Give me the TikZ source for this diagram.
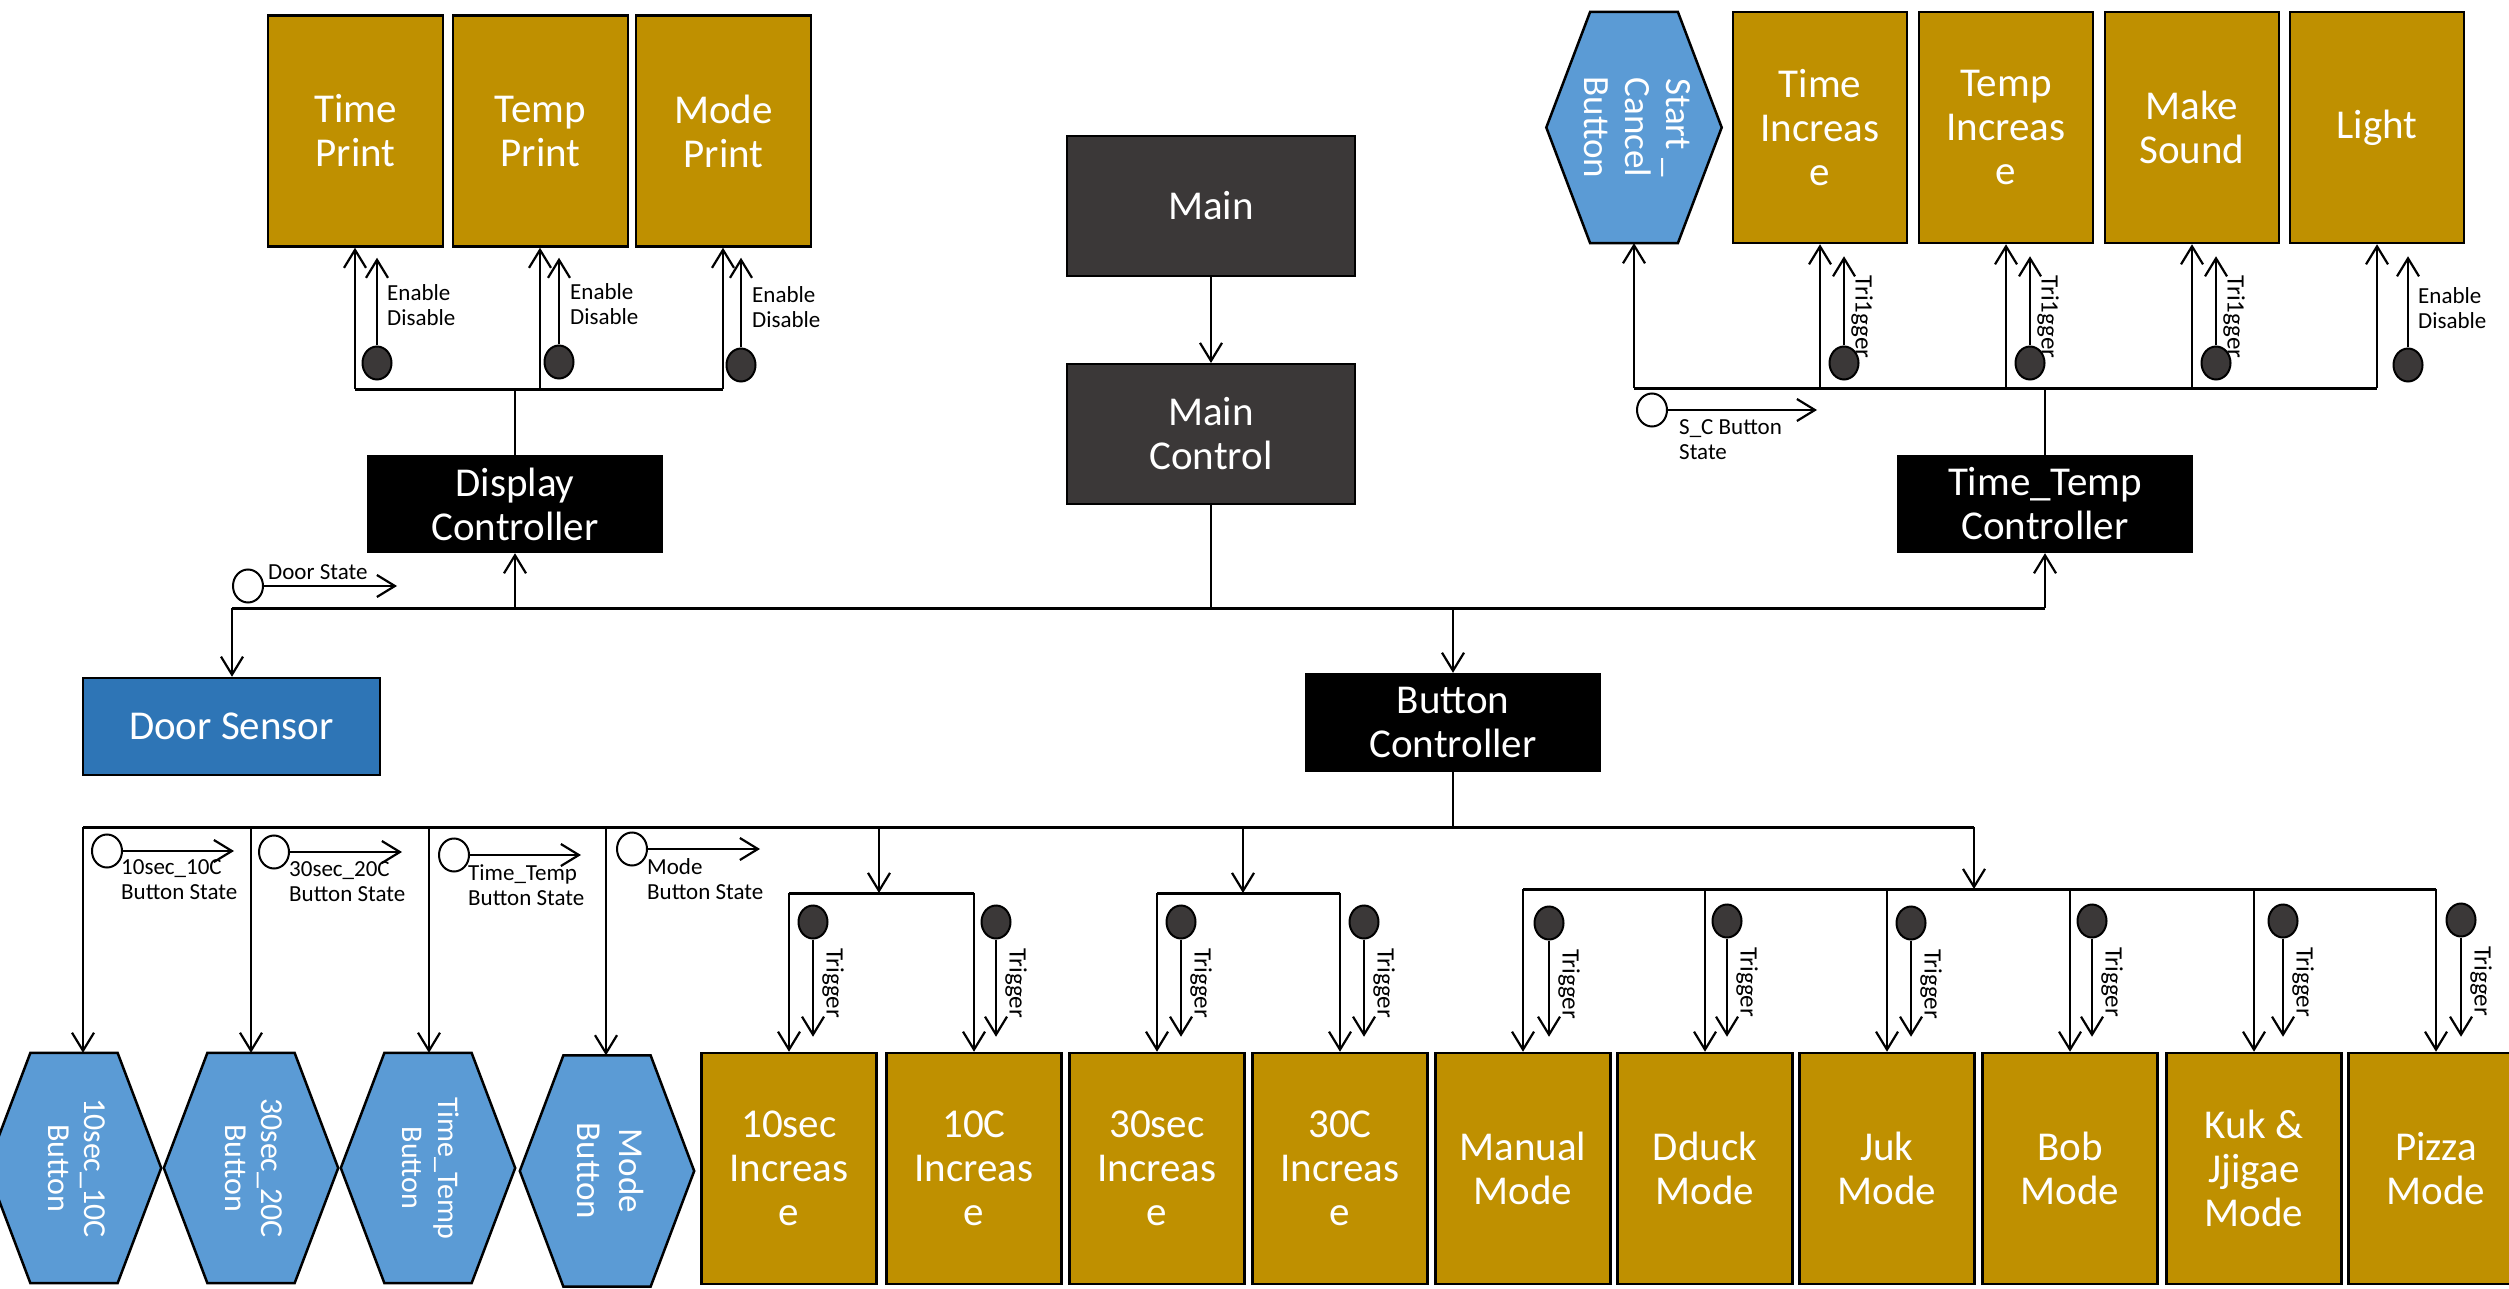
\documentclass[tikz,border=0pt]{standalone}
\usepackage{fontspec}
\setmainfont{Carlito}
\usepackage{graphicx}
\usetikzlibrary{arrows.meta,calc,shapes.geometric}
\pgfdeclarelayer{bg}
\pgfsetlayers{bg,main}
\definecolor{gold}{HTML}{BF9000}
\definecolor{hexblue}{HTML}{5B9BD5}
\definecolor{doorblue}{HTML}{2E75B6}
\definecolor{darkbox}{HTML}{3B3838}
\newcommand\drawhexof[1]{%
  \begin{pgfonlayer}{bg}
  \filldraw[hexline] (#1.west) -- ($(#1.north west)!0.25!(#1.north east)$) -- ($(#1.north west)!0.75!(#1.north east)$) -- (#1.east) -- ($(#1.south west)!0.75!(#1.south east)$) -- ($(#1.south west)!0.25!(#1.south east)$) -- cycle;
  \end{pgfonlayer}}
\newcommand\rottext[1]{\rotatebox{-90}{\begin{tabular}{@{}c@{}}#1\end{tabular}}}
\begin{document}
\begin{tikzpicture}[x=1pt,y=-1pt,
  bigfont/.style={font=\fontsize{41}{44}\selectfont},
  goldbox/.style={bigfont, draw=black, line width=2.5pt, fill=gold, text=white, minimum width=175pt, minimum height=231pt, inner sep=0pt, align=center},
  mainbox/.style={bigfont, draw=black, line width=2pt, fill=darkbox, text=white, minimum width=288pt, minimum height=140pt, inner sep=0pt, align=center},
  ctrl/.style={bigfont, fill=black, text=white, minimum width=296pt, minimum height=98pt, inner sep=0pt, align=center},
  doorbox/.style={bigfont, draw=black, line width=2.5pt, fill=doorblue, text=white, minimum width=297pt, minimum height=97pt, inner sep=0pt},
  hexnode/.style={minimum width=174pt, minimum height=230pt, inner sep=0pt, text=white},
  hexline/.style={draw=black, line width=2.5pt, fill=hexblue},
  conn/.style={line width=2.2pt},
  arr/.style={conn, -{Straight Barb[length=18pt,width=22pt]}},
  bus/.style={line width=3pt},
  dot/.style={ellipse, draw=black, line width=2pt, fill=darkbox, minimum width=29pt, minimum height=33pt, inner sep=0pt},
  odot/.style={ellipse, draw=black, line width=2pt, fill=white, minimum width=30pt, minimum height=33pt, inner sep=0pt},
  small/.style={font=\fontsize{23}{25}\selectfont, align=left, inner sep=0pt, anchor=west},
  trig/.style={font=\fontsize{25}{27}\selectfont, rotate=-90, inner sep=0pt}
]
\useasboundingbox (0,0) rectangle (2509,1289);
\begin{pgfonlayer}{bg}
\fill[white] (0,0) rectangle (2509,1289);
\end{pgfonlayer}
\clip (0,0) rectangle (2509,1289);

% ---------- top left: display outputs ----------
\node[goldbox] (tp) at (355.5,131) {Time\\Print};
\node[goldbox] (tmp) at (540.5,131) {Temp\\Print};
\node[goldbox] (mp) at (723.5,131) {Mode\\Print};
\coordinate (tlb1) at (355,389);
\coordinate (tlb2) at (540,389);
\coordinate (tlb3) at (723,389);
\coordinate (tlbm) at (515,389);
\draw[bus] (tlb1) -- (tlb3);
\draw[arr] (tlb1) -- (tlb1 |- tp.south);
\draw[arr] (tlb2) -- (tlb2 |- tmp.south);
\draw[arr] (tlb3) -- (tlb3 |- mp.south);
\node[dot] (e1) at (377,363) {};
\node[dot] (e2) at (559,362) {};
\node[dot] (e3) at (741,365) {};
\draw[arr] (e1.north) -- ($(e1.north |- tp.south)+(0,10)$);
\draw[arr] (e2.north) -- ($(e2.north |- tmp.south)+(0,10)$);
\draw[arr] (e3.north) -- ($(e3.north |- mp.south)+(0,10)$);
\node[small] (le1) at (387,305) {Enable\\Disable};
\node[small] (le2) at (570,304) {Enable\\Disable};
\node[small] (le3) at (752,307) {Enable\\Disable};
\node[ctrl] (dc) at (515,504) {Display\\Controller};
\draw[conn] (tlbm) -- (dc.north);

% ---------- centre ----------
\node[mainbox] (main) at (1211,206) {Main};
\node[mainbox] (mc) at (1211,434) {Main\\Control};
\draw[arr] (main) -- (mc);

\coordinate (mbL) at (232,608);
\coordinate (mbD) at (515,608);
\coordinate (mbM) at (1211,608);
\coordinate (mbB) at (1453,608);
\coordinate (mbR) at (2045,608);
\draw[bus] (mbL) -- (mbR);
\draw[conn] (mc.south) -- (mbM);
\draw[arr] (mbD) -- (dc.south);

\node[doorbox] (ds) at (231.5,726.5) {Door Sensor};
\draw[arr] (mbL) -- (mbL |- ds.north);
\node[odot] (dso) at (248,586) {};
\coordinate (dse) at (397,586);
\draw[arr] (dso.east) -- (dse);
\node[small] (dsl) at (268,572) {Door State};

% ---------- top right ----------
\node[ctrl] (ttc) at (2045,504) {Time\_Temp\\Controller};
\draw[arr] (mbR) -- (ttc.south);
\node[hexnode, minimum width=175pt, minimum height=231pt, font=\fontsize{37}{41}\selectfont] (sc) at (1634,127.5) {\rottext{Start \_\\Cancel\\Button}};
\drawhexof{sc}
\node[goldbox, minimum width=174pt] (ti) at (1820,127.5) {Time\\Increas\\e};
\node[goldbox, minimum width=174pt] (tei) at (2006,127.5) {Temp\\Increas\\e};
\node[goldbox, minimum width=174pt] (ms) at (2192,127.5) {Make\\Sound};
\node[goldbox, minimum width=174pt] (li) at (2377,127.5) {Light};
\coordinate (trb0) at (1634,388);
\coordinate (trb1) at (1820,388);
\coordinate (trb2) at (2006,388);
\coordinate (trb3) at (2192,388);
\coordinate (trb4) at (2377,388);
\coordinate (trbm) at (2045,388);
\draw[bus] (trb0) -- (trb4);
\draw[conn] (trbm) -- (ttc.north);
\draw[arr] (trb0) -- (trb0 |- sc.south);
\draw[arr] (trb1) -- (trb1 |- ti.south);
\draw[arr] (trb2) -- (trb2 |- tei.south);
\draw[arr] (trb3) -- (trb3 |- ms.south);
\draw[arr] (trb4) -- (trb4 |- li.south);
\node[dot] (t1) at (1844,363) {};
\node[dot] (t2) at (2030,363) {};
\node[dot] (t3) at (2216,363) {};
\node[dot] (t4) at (2408,365) {};
\draw[arr] (t1.north) -- ($(t1.north |- ti.south)+(0,12)$);
\draw[arr] (t2.north) -- ($(t2.north |- tei.south)+(0,12)$);
\draw[arr] (t3.north) -- ($(t3.north |- ms.south)+(0,12)$);
\draw[arr] (t4.north) -- ($(t4.north |- li.south)+(0,12)$);
\node[trig] (tt1) at (1862,317) {Tri1gger};
\node[trig] (tt2) at (2048,317) {Tri1gger};
\node[trig] (tt3) at (2234,317) {Tri1gger};
\node[small] (le4) at (2418,308) {Enable\\Disable};
\node[odot] (sco) at (1652,410) {};
\coordinate (sce) at (1817,410);
\draw[arr] (sco.east) -- (sce);
\node[small] (scl) at (1679,440) {S\_C Button\\State};

% ---------- button controller ----------
\node[ctrl, minimum height=99pt] (bc) at (1453,722.5) {Button\\Controller};
\draw[arr] (mbB) -- (bc.north);
\coordinate (lbL) at (83,827);
\coordinate (lb2) at (251,827);
\coordinate (lb3) at (429,827);
\coordinate (lb4) at (606,827);
\coordinate (lbA) at (879,827);
\coordinate (lbC) at (1243,827);
\coordinate (lbBc) at (1453,827);
\coordinate (lbR) at (1974,827);
\draw[bus] (lbL) -- (lbR);
\draw[conn] (bc.south) -- (lbBc);

% hex buttons
\node[hexnode, font=\fontsize{32}{36}\selectfont] (h1) at (74,1168) {\rottext{10sec\_10C\\Button}};
\drawhexof{h1}
\node[hexnode, font=\fontsize{32}{36}\selectfont] (h2) at (251,1168) {\rottext{30sec\_20C\\Button}};
\drawhexof{h2}
\node[hexnode, font=\fontsize{30}{36}\selectfont] (h3) at (428,1168) {\rottext{Time\_Temp\\Button}};
\drawhexof{h3}
\node[hexnode, minimum height=231pt, font=\fontsize{35}{42}\selectfont] (h4) at (607,1171) {\rottext{Mode\\Button}};
\drawhexof{h4}
\draw[arr] (lbL) -- (lbL |- h1.north);
\draw[arr] (lb2) -- (lb2 |- h2.north);
\draw[arr] (lb3) -- (lb3 |- h3.north);
\draw[arr] (lb4) -- (lb4 |- h4.north);

% state labels
\node[odot] (s1) at (107,851) {};
\node[odot] (s2) at (274,852) {};
\node[odot] (s3) at (454,855) {};
\node[odot] (s4) at (632,849) {};
\coordinate (s1e) at (234,851);
\coordinate (s2e) at (402,852);
\coordinate (s3e) at (581,855);
\coordinate (s4e) at (760,849);
\draw[arr] (s1.east) -- (s1e);
\draw[arr] (s2.east) -- (s2e);
\draw[arr] (s3.east) -- (s3e);
\draw[arr] (s4.east) -- (s4e);
\node[small] (sl1) at (121,880) {10sec\_10C\\Button State};
\node[small] (sl2) at (289,882) {30sec\_20C\\Button State};
\node[small] (sl3) at (468,885) {Time\_Temp\\Button State};
\node[small] (sl4) at (647,879) {Mode\\Button State};

% bottom gold boxes
\node[goldbox] (b1) at (789,1168.5) {10sec\\Increas\\e};
\node[goldbox] (b2) at (974,1168.5) {10C\\Increas\\e};
\node[goldbox] (b3) at (1157,1168.5) {30sec\\Increas\\e};
\node[goldbox] (b4) at (1340,1168.5) {30C\\Increas\\e};
\node[goldbox] (b5) at (1523,1168.5) {Manual\\Mode};
\node[goldbox] (b6) at (1705,1168.5) {Dduck\\Mode};
\node[goldbox] (b7) at (1887,1168.5) {Juk\\Mode};
\node[goldbox] (b8) at (2070,1168.5) {Bob\\Mode};
\node[goldbox] (b9) at (2254,1168.5) {Kuk \&\\Jjigae\\Mode};
\node[goldbox] (b10) at (2436,1168.5) {Pizza\\Mode};

% branch A
\coordinate (sA) at (879,893);
\coordinate (sA1) at (789,893);
\coordinate (sA2) at (974,893);
\draw[arr] (lbA) -- (sA);
\draw[bus] (sA1) -- (sA2);
\draw[arr] (sA1) -- (b1.north);
\draw[arr] (sA2) -- (b2.north);
% branch B
\coordinate (sB) at (1243,893);
\coordinate (sB1) at (1157,893);
\coordinate (sB2) at (1340,893);
\draw[arr] (lbC) -- (sB);
\draw[bus] (sB1) -- (sB2);
\draw[arr] (sB1) -- (b3.north);
\draw[arr] (sB2) -- (b4.north);
% branch C
\coordinate (sC) at (1974,889);
\coordinate (sC1) at (1523,889);
\coordinate (sC6) at (2436,889);
\draw[arr] (lbR) -- (sC);
\draw[bus] (sC1) -- (sC6);
\foreach \b in {b5,b6,b7,b8,b9,b10}{
  \draw[arr] (\b.north |- sC) -- (\b.north);
}

% trigger dots bottom
\foreach \n/\x/\y/\b in {d1/813/922/b1, d2/996/922/b2, d3/1181/922/b3, d4/1364/922/b4, d5/1549/923/b5, d6/1727/921/b6, d7/1911/923/b7, d8/2092/921/b8, d9/2283/921/b9, d10/2461/920/b10}{
  \node[dot] (\n) at (\x,\y) {};
  \draw[arr] (\n.south) -- ($(\n.south |- \b.north)+(0,-15)$);
  \node[trig] (\n t) at ($(\n.center)+(20,61)$) {Trigger};
}
\end{tikzpicture}
\end{document}
